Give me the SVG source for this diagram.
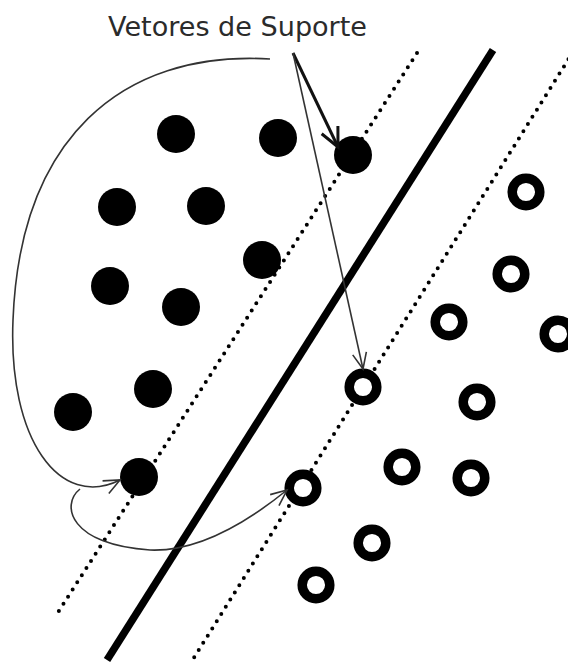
<svg xmlns="http://www.w3.org/2000/svg" width="568" height="666" viewBox="0 0 568 666">
  <style>
    .pos { fill: #000; }
    .neg { fill: #fff; stroke: #000; stroke-width: 9.5; }
    .sep { stroke: #000; stroke-width: 7.5; fill: none; }
    .margin { stroke: #000; stroke-width: 4; stroke-linecap: round; stroke-dasharray: 0 8.5; fill: none; }
    .thin { stroke: #333; stroke-width: 1.6; fill: none; }
    .thick { stroke: #111; stroke-width: 3; fill: none; }
    .label { font-family: "DejaVu Sans", Verdana, sans-serif; font-size: 26px; fill: #2b2b2b; }
  </style>
  <defs>
    <marker id="vThin" markerUnits="userSpaceOnUse" orient="auto" markerWidth="30" markerHeight="30" refX="0" refY="0" viewBox="-20 -15 30 30" overflow="visible">
      <path d="M-16,-7 L0,0 L-16,7" fill="none" stroke="#333" stroke-width="1.6"/>
    </marker>
    <marker id="vThick" markerUnits="userSpaceOnUse" orient="auto" markerWidth="30" markerHeight="30" refX="0" refY="0" viewBox="-25 -15 30 30" overflow="visible">
      <path d="M-19,-9 L0,0 L-19,9" fill="none" stroke="#111" stroke-width="3"/>
    </marker>
  </defs>
  <rect width="568" height="666" fill="#fff"/>

  <g id="hyperplanes">
    <line class="margin" x1="417" y1="53" x2="55" y2="617"/>
    <line class="sep" x1="493" y1="50" x2="107" y2="660"/>
    <line class="margin" x1="573" y1="52" x2="190" y2="664"/>
  </g>

  <g id="class-filled">
    <g id="p1"><circle class="pos" cx="176" cy="134" r="19"/></g>
    <g id="p2"><circle class="pos" cx="278" cy="138" r="19"/></g>
    <g id="p3"><circle class="pos" cx="353" cy="155" r="19"/></g>
    <g id="p4"><circle class="pos" cx="117" cy="207" r="19"/></g>
    <g id="p5"><circle class="pos" cx="206" cy="206" r="19"/></g>
    <g id="p6"><circle class="pos" cx="262" cy="260" r="19"/></g>
    <g id="p7"><circle class="pos" cx="110" cy="286" r="19"/></g>
    <g id="p8"><circle class="pos" cx="181" cy="307" r="19"/></g>
    <g id="p9"><circle class="pos" cx="153" cy="389" r="19"/></g>
    <g id="p10"><circle class="pos" cx="73" cy="412" r="19"/></g>
    <g id="p11"><circle class="pos" cx="139" cy="477" r="19"/></g>
  </g>

  <g id="class-open">
    <g id="n1"><circle class="neg" cx="526" cy="192" r="13.8"/></g>
    <g id="n2"><circle class="neg" cx="511" cy="274" r="13.8"/></g>
    <g id="n3"><circle class="neg" cx="449" cy="322" r="13.8"/></g>
    <g id="n4"><circle class="neg" cx="558" cy="334" r="13.8"/></g>
    <g id="n5"><circle class="neg" cx="363" cy="387" r="13.8"/></g>
    <g id="n6"><circle class="neg" cx="477" cy="402" r="13.8"/></g>
    <g id="n7"><circle class="neg" cx="402" cy="467" r="13.8"/></g>
    <g id="n8"><circle class="neg" cx="471" cy="478" r="13.8"/></g>
    <g id="n9"><circle class="neg" cx="303" cy="488" r="13.8"/></g>
    <g id="n10"><circle class="neg" cx="372" cy="543" r="13.8"/></g>
    <g id="n11"><circle class="neg" cx="316" cy="585" r="13.8"/></g>
  </g>

  <g id="label">
    <text class="label" x="108" y="36" textLength="259" lengthAdjust="spacingAndGlyphs">Vetores de Suporte</text>
  </g>

  <g id="connectors">
    <line class="thick" x1="293" y1="53" x2="338" y2="147" marker-end="url(#vThick)"/>
    <line class="thin" x1="293" y1="53" x2="363" y2="369" marker-end="url(#vThin)"/>
    <path class="thin" d="M270,59 C120,50 20,140 13,320 C8,440 60,510 120,480" marker-end="url(#vThin)"/>
    <path class="thin" d="M80,489 C60,505 70,545 150,550 C200,552 250,520 287,490" marker-end="url(#vThin)"/>
  </g>
</svg>
